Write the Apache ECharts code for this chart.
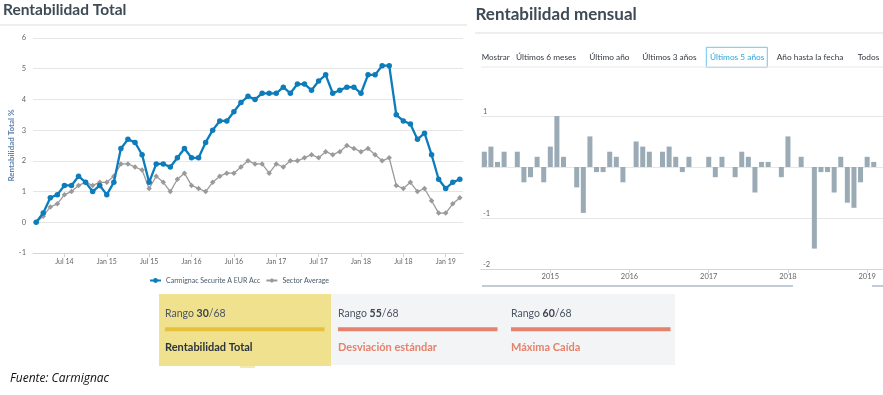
<!DOCTYPE html>
<html>
<head>
<meta charset="utf-8">
<script src="https://cdn.jsdelivr.net/npm/echarts@6/dist/echarts.min.js"></script>
<style>
html,body{margin:0;padding:0;background:#fff;}
#c{width:883px;height:395px;}
</style>
</head>
<body>
<div id="c"></div>
<script>
// ---- Data ----
const months = ['2014-03','2014-04','2014-05','2014-06','2014-07','2014-08','2014-09','2014-10','2014-11','2014-12',
 '2015-01','2015-02','2015-03','2015-04','2015-05','2015-06','2015-07','2015-08','2015-09','2015-10','2015-11','2015-12',
 '2016-01','2016-02','2016-03','2016-04','2016-05','2016-06','2016-07','2016-08','2016-09','2016-10','2016-11','2016-12',
 '2017-01','2017-02','2017-03','2017-04','2017-05','2017-06','2017-07','2017-08','2017-09','2017-10','2017-11','2017-12',
 '2018-01','2018-02','2018-03','2018-04','2018-05','2018-06','2018-07','2018-08','2018-09','2018-10','2018-11','2018-12',
 '2019-01','2019-02','2019-03'];
const fundTotal = [0,0.3,0.8,0.9,1.2,1.2,1.5,1.3,1.0,1.2,
 0.9,1.3,2.4,2.7,2.6,2.2,1.3,1.9,1.9,1.8,2.1,2.4,
 2.1,2.1,2.6,3.0,3.3,3.3,3.6,3.9,4.1,4.0,4.2,4.2,
 4.2,4.4,4.2,4.5,4.5,4.3,4.6,4.8,4.2,4.3,4.4,4.4,
 4.2,4.8,4.8,5.1,5.1,3.5,3.3,3.2,2.7,2.9,2.2,1.4,
 1.1,1.3,1.4];
const sectorTotal = [0,0.2,0.5,0.6,0.9,1.0,1.2,1.3,1.2,1.3,
 1.3,1.5,1.9,1.9,1.8,1.7,1.1,1.5,1.3,1.0,1.4,1.6,
 1.2,1.1,1.0,1.3,1.5,1.6,1.6,1.8,2.0,1.9,1.9,1.6,
 1.9,1.8,2.0,2.0,2.1,2.2,2.1,2.3,2.2,2.3,2.5,2.4,
 2.3,2.4,2.2,2.0,2.1,1.2,1.1,1.3,1.0,1.1,0.7,0.3,
 0.3,0.6,0.8];
const barMonths = months.slice(0, 60);
const monthly = [0.3,0.4,0.1,0.3,0,0.3,-0.3,-0.2,0.2,-0.3,
 0.4,1.0,0.2,0,-0.4,-0.9,0.6,-0.1,-0.1,0.3,0.2,-0.3,
 0,0.5,0.4,0.3,0,0.3,0.4,0.2,-0.1,0.2,0,0,
 0.2,-0.2,0.2,0,-0.2,0.3,0.2,-0.5,0.1,0.1,0,-0.2,
 0.6,0,0.2,0,-1.6,-0.1,-0.1,-0.5,0.2,-0.7,-0.8,-0.3,
 0.2,0.1];
const seriesNames = ['Carmignac Securite A EUR Acc','Sector Average'];
const monthNames = {'01':'Jan','07':'Jul'};
const tabs = ['Mostrar','Últimos 6 meses','Último año','Últimos 3 años','Últimos 5 años','Año hasta la fecha','Todos'];
const ranks = [{r:'30',t:'Rentabilidad Total'},{r:'55',t:'Desviación estándar'},{r:'60',t:'Máxima Caída'}];
const rankTotal = '68';

// ---- Derived ----
const leftTicks = months.map((m,i)=> (m.endsWith('-01')||m.endsWith('-07')) ? i : -1).filter(i=>i>=0);
const rightTicks = barMonths.map((m,i)=> m.endsWith('-01') ? i : -1).filter(i=>i>=0);
const FONT = 'Lato, "Open Sans", sans-serif';

const chart = echarts.init(document.getElementById('c'), null, {renderer:'canvas'});

const tabX = [481.7, 516, 589.3, 642.3, 710, 776.7, 857.7];
const graphics = [];
// titles
graphics.push({type:'text', left:3, top:2, style:{text:'Rentabilidad Total', font:'bold 15.5px '+FONT, fill:'#3e4a56'}});
graphics.push({type:'line', shape:{x1:0,y1:25,x2:467,y2:25}, style:{stroke:'#eeeeee', lineWidth:2}});
graphics.push({type:'text', left:475.5, top:6, style:{text:'Rentabilidad mensual', font:'bold 17px '+FONT, fill:'#3e4a56'}});
graphics.push({type:'line', shape:{x1:475,y1:33,x2:883,y2:33}, style:{stroke:'#eeeeee', lineWidth:2}});
// tabs
tabs.forEach((t,i)=>{
  graphics.push({type:'text', x:tabX[i], y:57, style:{text:t, font:(i===0?'8px ':'8.3px ')+FONT, fill: i===4 ? '#2aa7df' : '#333a42', textVerticalAlign:'middle'}});
});
graphics.push({type:'rect', shape:{x:706.3,y:47.3,width:61,height:20}, style:{fill:'none', stroke:'#6cc6ee', lineWidth:1}});
graphics.push({type:'line', shape:{x1:481,y1:67,x2:883,y2:67}, style:{stroke:'#e9e9e9', lineWidth:1}});
// navigator line
graphics.push({type:'line', shape:{x1:482,y1:286,x2:793,y2:286}, style:{stroke:'#aebbca', lineWidth:1.5}});
graphics.push({type:'line', shape:{x1:872,y1:286,x2:883,y2:286}, style:{stroke:'#aebbca', lineWidth:1.5}});
// rank boxes
graphics.push({type:'rect', shape:{x:159,y:294,width:172,height:72}, style:{fill:'#f0e18e'}});
graphics.push({type:'rect', shape:{x:240,y:366,width:15,height:2}, style:{fill:'#f4e9b2'}});
graphics.push({type:'rect', shape:{x:331,y:294,width:344,height:71}, style:{fill:'#f3f4f6'}});
const boxX = [165, 338, 511];
ranks.forEach((rk,i)=>{
  const first = i===0;
  graphics.push({type:'text', x:boxX[i], y:313.5, style:{
    text:'{a|Rango }{b|'+rk.r+'}{a|/'+rankTotal+'}',
    textVerticalAlign:'middle',
    rich:{a:{font:'10.5px '+FONT, fill:'#4b5663'}, b:{font:'bold 10.5px '+FONT, fill:'#3b4450'}}
  }});
  graphics.push({type:'rect', shape:{x:boxX[i], y:327.3, width:159.5, height:4}, style:{fill: first ? '#e5c23a' : '#e6816c'}});
  graphics.push({type:'text', x:boxX[i], y:347.5, style:{text:rk.t, font:'bold 11px '+FONT, fill: first ? '#2b333d' : '#e6816c', textVerticalAlign:'middle'}});
});
// source
graphics.push({type:'text', x:10, y:379, style:{text:'Fuente: Carmignac', font:'italic 12px "Open Sans", sans-serif', fill:'#111111', textVerticalAlign:'middle'}});

const option = {
  animation:false,
  backgroundColor:'#ffffff',
  textStyle:{fontFamily:FONT},
  legend:{
    left:144, top:272, itemWidth:11, itemHeight:6, itemGap:5,
    data:seriesNames,
    textStyle:{fontSize:7, color:'#4a5a6a', fontFamily:FONT}
  },
  grid:[
    {left:33, top:38, width:430, height:215},
    {left:481, top:116, width:402, height:153}
  ],
  xAxis:[
    {type:'value', gridIndex:0, min:-0.45, max:60.45,
     axisLine:{show:true, onZero:false, lineStyle:{color:'#ccd6eb'}},
     axisTick:{show:true, customValues:leftTicks, length:4, lineStyle:{color:'#ccd6eb'}},
     axisLabel:{customValues:leftTicks, fontSize:7, color:'#666666', margin:5,
       formatter:(v)=>{const m=months[Math.round(v)]; return m ? monthNames[m.slice(5)]+' '+m.slice(2,4) : '';}},
     splitLine:{show:false}},
    {type:'value', gridIndex:1, min:-0.5, max:60.4,
     axisLine:{show:true, onZero:false, lineStyle:{color:'#ccd6eb'}},
     axisTick:{show:true, customValues:rightTicks, length:4, lineStyle:{color:'#ccd6eb'}},
     axisLabel:{customValues:rightTicks, fontSize:7.5, color:'#666666', margin:4,
       formatter:(v)=>{const m=barMonths[Math.round(v)]; return m ? m.slice(0,4) : '';}},
     splitLine:{show:false}}
  ],
  yAxis:[
    {type:'value', gridIndex:0, min:-1, max:6, interval:1,
     axisLine:{show:false}, axisTick:{show:false},
     axisLabel:{fontSize:7.5, color:'#666666', margin:7},
     splitLine:{lineStyle:{color:'#e6e6e6'}},
     name:'Rentabilidad Total %', nameLocation:'middle', nameGap:18, nameRotate:90,
     nameTextStyle:{color:'#5b80ad', fontWeight:'bold', fontSize:8, fontFamily:FONT}},
    {type:'value', gridIndex:1, min:-2, max:1, interval:1,
     axisLine:{show:false}, axisTick:{show:false},
     axisLabel:{inside:true, margin:2, fontSize:7.5, color:'#666666', verticalAlign:'bottom', align:'left'},
     splitLine:{lineStyle:{color:'#e6e6e6'}}}
  ],
  series:[
    {name:seriesNames[0], type:'line', xAxisIndex:0, yAxisIndex:0, z:4,
     data:fundTotal.map((v,i)=>[i,v]), symbol:'circle', symbolSize:5.5, showAllSymbol:true,
     lineStyle:{color:'#0c7cba', width:2.3}, itemStyle:{color:'#0c7cba'}},
    {name:seriesNames[1], type:'line', xAxisIndex:0, yAxisIndex:0, z:3,
     data:sectorTotal.map((v,i)=>[i,v]), symbol:'diamond', symbolSize:5.5, showAllSymbol:true,
     lineStyle:{color:'#9a9a9a', width:1.3}, itemStyle:{color:'#9a9a9a'}},
    {type:'bar', xAxisIndex:1, yAxisIndex:1,
     data:monthly.map((v,i)=>[i,v]), barWidth:5, itemStyle:{color:'#9aabb6'}}
  ],
  graphic:graphics
};
chart.setOption(option);
</script>
</body>
</html>
